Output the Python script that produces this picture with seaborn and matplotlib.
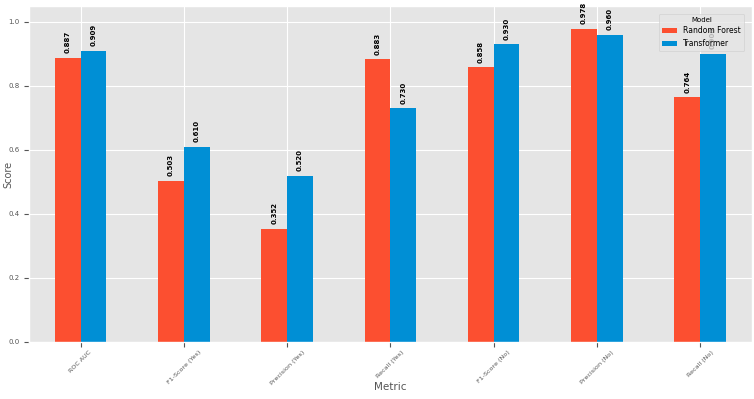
import pandas as pd
import seaborn as sns
import matplotlib.pyplot as plt

metrics = ["ROC AUC", "F1-Score (Yes)", "Precision (Yes)", "Recall (Yes)",
           "F1-Score (No)", "Precision (No)", "Recall (No)"]
rf_scores = [0.887, 0.503, 0.352, 0.883, 0.858, 0.978, 0.764]
tr_scores = [0.909, 0.610, 0.520, 0.730, 0.930, 0.960, 0.900]
models = ["Random Forest", "Transformer"]

df = pd.DataFrame({
    "Metric": metrics * 2,
    "Score": rf_scores + tr_scores,
    "Model": [models[0]] * len(metrics) + [models[1]] * len(metrics),
})

plt.style.use("ggplot")
fig, ax = plt.subplots(figsize=(7.54, 3.99), dpi=100)
fig.subplots_adjust(left=0.0385, right=0.997, top=0.985, bottom=0.143)

sns.barplot(data=df, x="Metric", y="Score", hue="Model", order=metrics,
            palette=["#FC4F30", "#008FD5"], width=0.5, saturation=1, ax=ax)

for cont in ax.containers:
    ax.bar_label(cont, fmt="%.3f", rotation=90, padding=3.5,
                 fontsize=5, fontweight="bold", color="black")

ax.set_ylim(0, 1.05)
ax.set_xlim(-0.5, 6.5)
ax.grid(True, axis="both", color="white")
ax.set_axisbelow(True)
ax.set_xlabel("Metric", fontsize=7.5, color="#555555")
ax.set_ylabel("Score", fontsize=7, color="#555555")
ax.xaxis.set_label_coords(0.5, -0.12)
ax.yaxis.set_label_coords(-0.021, 0.5)
ax.tick_params(axis="x", labelrotation=45, labelsize=4.6, pad=2)
ax.tick_params(axis="y", labelsize=5)

leg = ax.legend(title="Model", loc="upper right", fontsize=5.5, title_fontsize=5,
                borderaxespad=1.0)

fig.savefig("out.png", dpi=100)
